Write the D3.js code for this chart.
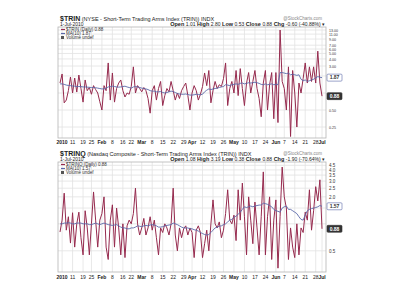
<!DOCTYPE html>
<html>
<head>
<meta charset="utf-8">
<script src="https://cdn.jsdelivr.net/npm/d3@7"></script>
<style>
  body { margin: 0; background: #fff; }
  svg { display: block; font-family: "Liberation Sans", Arial, sans-serif; }
</style>
</head>
<body>
<svg id="chart" width="400" height="300"></svg>
<script>
// market holidays in the range (no trading)
const holidays = ["2010-01-01", "2010-01-18", "2010-02-15", "2010-04-02", "2010-05-31"];

const tickDates = ["2010-01-04", "2010-01-11", "2010-01-19", "2010-01-25", "2010-02-01", "2010-02-08",
  "2010-02-16", "2010-02-22", "2010-03-01", "2010-03-08", "2010-03-15", "2010-03-22", "2010-03-29",
  "2010-04-05", "2010-04-12", "2010-04-19", "2010-04-26", "2010-05-03", "2010-05-10", "2010-05-17",
  "2010-05-24", "2010-06-01", "2010-06-07", "2010-06-14", "2010-06-21", "2010-06-28", "2010-07-01"];
const tickLabels = ["2010", "11", "19", "25", "Feb", "8", "16", "22", "Mar", "8", "15", "22", "29",
  "Apr", "12", "19", "26", "May", "10", "17", "24", "Jun", "7", "14", "21", "28", "Jul"];

const trinValues = [
  1.50, 2.17, 0.67, 0.75, 1.10, 1.92, 1.00, 1.84, 1.04, 2.08,
  1.20, 0.69, 1.70, 1.10, 1.25, 0.95, 1.35, 1.15, 1.00, 0.70,
  0.50, 1.35, 1.10, 3.40, 0.75, 2.26, 0.69, 1.20, 1.50, 1.70,
  1.10, 0.85, 1.00, 0.95, 1.30, 2.90, 1.00, 1.35, 1.20, 1.05,
  1.25, 1.10, 0.80, 0.44, 1.10, 1.35, 0.75, 1.20, 1.60, 0.60,
  0.90, 1.20, 1.05, 1.60, 1.10, 0.75, 1.00, 0.80, 1.10, 1.30,
  1.50, 0.90, 0.50, 1.00, 1.35, 1.10, 0.75, 0.95, 1.30, 2.26,
  1.35, 2.50, 0.67, 1.10, 1.60, 1.20, 1.40, 1.30, 1.80, 3.40,
  0.60, 1.20, 1.60, 1.00, 2.50, 0.90, 2.70, 1.20, 0.60, 1.50,
  2.30, 1.00, 1.60, 2.50, 1.20, 0.80, 0.38, 1.50, 2.50, 0.50,
  1.40, 2.30, 0.35, 2.30, 0.30, 13.0, 1.60, 1.20, 0.50, 2.90,
  0.17, 2.50, 1.00, 0.25, 1.50, 1.00, 1.80, 3.40, 1.50, 2.90,
  1.60, 2.90, 1.50, 5.50, 1.50, 0.88];
const trinMA = [
  1.45, 1.45, 1.42, 1.38, 1.36, 1.35, 1.33, 1.32, 1.30, 1.30,
  1.30, 1.28, 1.28, 1.27, 1.26, 1.25, 1.25, 1.24, 1.22, 1.20,
  1.18, 1.18, 1.22, 1.28, 1.30, 1.32, 1.30, 1.28, 1.27, 1.28,
  1.30, 1.32, 1.28, 1.25, 1.22, 1.28, 1.30, 1.28, 1.25, 1.22,
  1.20, 1.18, 1.15, 1.10, 1.08, 1.08, 1.05, 1.05, 1.06, 1.02,
  1.00, 1.02, 1.05, 1.08, 1.06, 1.02, 0.98, 0.96, 0.95, 0.95,
  0.96, 0.94, 0.92, 0.92, 0.93, 0.95, 0.94, 0.93, 0.95, 1.05,
  1.12, 1.18, 1.15, 1.18, 1.20, 1.22, 1.25, 1.28, 1.30, 1.40,
  1.38, 1.35, 1.40, 1.42, 1.45, 1.42, 1.48, 1.50, 1.45, 1.48,
  1.52, 1.50, 1.52, 1.55, 1.52, 1.48, 1.42, 1.40, 1.45, 1.40,
  1.42, 1.45, 1.40, 1.42, 1.40, 2.30, 2.30, 2.25, 2.20, 2.25,
  2.10, 2.15, 2.10, 2.05, 2.10, 1.75, 1.65, 1.70, 1.60, 1.65,
  1.70, 1.75, 1.85, 1.95, 1.90, 1.87];

const trinqValues = [
  0.81, 1.10, 2.20, 0.85, 1.20, 0.61, 1.33, 0.55, 1.00, 1.35,
  0.70, 0.45, 1.40, 0.90, 0.45, 1.00, 2.27, 1.10, 0.55, 1.10,
  1.30, 2.00, 0.55, 0.40, 1.10, 1.63, 0.55, 1.50, 0.90, 0.45,
  1.00, 0.42, 0.95, 1.10, 1.00, 1.30, 2.50, 1.00, 0.75, 0.90,
  1.15, 0.75, 0.90, 1.20, 0.85, 1.10, 0.70, 0.45, 0.90, 0.80,
  1.00, 0.90, 0.75, 1.00, 2.50, 0.75, 0.50, 0.90, 0.70, 0.88,
  0.95, 0.75, 0.90, 0.80, 0.42, 0.85, 0.95, 0.80, 0.42, 0.60,
  0.85, 0.50, 1.00, 1.85, 1.00, 0.90, 1.05, 0.70, 0.85, 1.30,
  2.40, 1.10, 1.00, 1.25, 0.65, 2.40, 1.10, 2.85, 1.20, 0.45,
  2.00, 1.10, 0.60, 1.75, 0.90, 0.45, 1.20, 3.80, 0.45, 1.20,
  2.00, 0.40, 1.10, 1.85, 0.32, 1.20, 4.30, 2.00, 1.50, 0.40,
  0.90, 0.55, 0.42, 1.00, 0.45, 0.90, 0.80, 1.35, 1.10, 2.40,
  0.85, 1.40, 2.60, 1.80, 3.10, 0.88];
const trinqMA = [
  1.00, 1.00, 1.02, 1.02, 1.03, 1.02, 1.00, 1.00, 1.02, 1.02,
  1.02, 1.00, 1.00, 1.00, 0.98, 0.98, 1.00, 1.02, 1.00, 0.98,
  1.00, 1.02, 1.00, 0.98, 0.97, 0.96, 0.97, 0.98, 0.95, 0.92,
  0.90, 0.90, 0.88, 0.88, 0.90, 0.90, 0.92, 0.95, 0.94, 0.93,
  0.95, 0.96, 0.95, 0.97, 0.98, 0.97, 0.95, 0.92, 0.92, 0.93,
  0.95, 0.96, 0.97, 0.98, 1.02, 1.00, 0.98, 0.95, 0.92, 0.90,
  0.90, 0.90, 0.88, 0.88, 0.86, 0.85, 0.83, 0.80, 0.78, 0.76,
  0.75, 0.76, 0.80, 0.85, 0.90, 0.92, 0.94, 0.95, 0.98, 1.00,
  1.05, 1.10, 1.12, 1.18, 1.22, 1.28, 1.35, 1.45, 1.55, 1.52,
  1.55, 1.58, 1.55, 1.58, 1.60, 1.62, 1.62, 1.70, 1.68, 1.65,
  1.60, 1.55, 1.45, 1.40, 1.38, 1.35, 1.50, 1.55, 1.58, 1.45,
  1.45, 1.40, 1.35, 1.30, 1.20, 1.12, 1.10, 1.25, 1.40, 1.45,
  1.48, 1.50, 1.52, 1.55, 1.60, 1.57];

const trinTicks = [0.25, 0.5, 1, 2, 3, 4, 5, 6, 7, 9, 11, 13];
const trinqTicks = [0.5, 1, 1.5, 2, 2.5, 3, 3.5, 4, 4.5];

const fmtDay = d3.timeFormat("%Y-%m-%d");
const days = d3.timeDay.range(new Date(2009, 11, 31), new Date(2010, 6, 2))
  .filter((d) => d.getDay() !== 0 && d.getDay() !== 6 && !holidays.includes(fmtDay(d)));

const svg = d3.select("#chart");
const lineColor = "#962a4e";
const maColor = "#5a68a8";
const left = 58, right = 326;
const x = d3.scalePoint().domain(days.map(fmtDay)).range([60, 322]);

const panels = [
  {
    id: "p1", top: 27, bottom: 138, symbol: "$TRIN",
    desc: " (NYSE - Short-Term Trading Arms Index (TRIN)) INDX",
    head: [["Open", "1.01"], ["High", "2.80"], ["Low", "0.53"], ["Close", "0.88"], ["Chg", "-0.60 (-40.88%)"]],
    values: trinValues, ma: trinMA, maLabel: "1.87", axisFont: 3.6,
    domain: [0.16, 14.7], ticks: trinTicks, fmt: d3.format(".2f"), xLabelY: 144
  },
  {
    id: "p2", top: 162, bottom: 272, symbol: "$TRINQ",
    desc: " (Nasdaq Composite - Short-Term Trading Arms Index (TRIN)) INDX",
    head: [["Open", "1.08"], ["High", "3.19"], ["Low", "0.38"], ["Close", "0.88"], ["Chg", "-1.90 (-70.64%)"]],
    values: trinqValues, ma: trinqMA, maLabel: "1.57", axisFont: 4.5,
    domain: [0.29, 4.9], ticks: trinqTicks, fmt: d3.format(".1f"), xLabelY: 279
  }
];

panels.forEach((p) => {
  const y = d3.scaleLog().domain(p.domain).range([p.bottom, p.top]);
  const g = svg.append("g");

  g.append("clipPath").attr("id", "clip-" + p.id)
    .append("rect").attr("x", left).attr("y", p.top)
    .attr("width", right - left).attr("height", p.bottom - p.top);

  // grid
  g.selectAll(".vg").data(tickDates).join("line")
    .attr("x1", (d) => x(d)).attr("x2", (d) => x(d))
    .attr("y1", p.top).attr("y2", p.bottom)
    .attr("stroke", "#e2e2e2").attr("stroke-width", 0.8);
  g.selectAll(".hg").data(p.ticks.filter((t) => y(t) > p.top + 1)).join("line")
    .attr("x1", left).attr("x2", right)
    .attr("y1", (d) => y(d)).attr("y2", (d) => y(d))
    .attr("stroke", "#e2e2e2").attr("stroke-width", 0.8);

  g.append("rect").attr("x", left).attr("y", p.top)
    .attr("width", right - left).attr("height", p.bottom - p.top)
    .attr("fill", "none").attr("stroke", "#b5b5b5").attr("stroke-width", 0.8);

  // title + header
  const title = g.append("text").attr("x", 60).attr("y", p.top - 6).attr("font-size", 5.5).attr("fill", "#222");
  title.append("tspan").attr("font-weight", "bold").attr("font-size", 7).text(p.symbol);
  title.append("tspan").text(p.desc);
  g.append("text").attr("x", 60).attr("y", p.top - 1).attr("font-size", 5).attr("fill", "#222").text("1-Jul-2010");
  g.append("text").attr("x", 322).attr("y", p.top - 7).attr("font-size", 4.5).attr("fill", "#888")
    .attr("text-anchor", "end").text("@StockCharts.com");
  const head = g.append("text").attr("x", 325).attr("y", p.top - 1).attr("font-size", 5)
    .attr("text-anchor", "end").attr("fill", "#222");
  p.head.forEach(([k, v], i) => {
    head.append("tspan").attr("font-weight", "bold").attr("font-size", 5.5).text((i ? "  " : "") + k + " ");
    head.append("tspan").text(v);
  });
  head.append("tspan").text(" \u25BE");

  // legend
  const legend = [
    [lineColor, p.symbol + " (Daily) 0.88"],
    [maColor, "MA(10) " + p.maLabel]
  ];
  legend.forEach(([c, t], i) => {
    const ly = p.top + 4 + i * 4;
    g.append("line").attr("x1", 61).attr("x2", 65).attr("y1", ly - 1.5).attr("y2", ly - 1.5)
      .attr("stroke", c).attr("stroke-width", 1.2);
    g.append("text").attr("x", 66).attr("y", ly).attr("font-size", 4.5).attr("fill", "#333").text(t);
  });
  g.append("rect").attr("x", 61).attr("y", p.top + 9).attr("width", 3).attr("height", 3).attr("fill", "#555");
  g.append("text").attr("x", 66).attr("y", p.top + 12).attr("font-size", 4.5).attr("fill", "#333").text("Volume undef");

  // series
  const line = d3.line().x((d, i) => x(fmtDay(days[i]))).y((d) => y(d));
  const plot = g.append("g").attr("clip-path", "url(#clip-" + p.id + ")");
  plot.append("path").attr("d", line(p.values)).attr("fill", "none")
    .attr("stroke", lineColor).attr("stroke-width", 1).attr("stroke-linejoin", "round");
  plot.append("path").attr("d", line(p.ma)).attr("fill", "none")
    .attr("stroke", maColor).attr("stroke-width", 0.9);

  // value boxes at the right edge
  const lastMA = p.ma[p.ma.length - 1];
  const lastVal = p.values[p.values.length - 1];
  const boxes = [
    [lastMA, p.maLabel, "#fff", maColor, "#333"],
    [lastVal, "0.88", "#333", "#333", "#fff"]
  ];

  // right axis (labels hidden where a value box sits)
  const freeTicks = p.ticks.filter((t) => boxes.every(([v]) => Math.abs(y(t) - y(v)) > 6));
  const axis = g.append("g").attr("transform", `translate(${right},0)`)
    .call(d3.axisRight(y).tickValues(freeTicks).tickFormat(p.fmt).tickSize(0).tickPadding(3));
  axis.select(".domain").remove();
  axis.selectAll("text").attr("font-size", p.axisFont).attr("fill", "#333").attr("font-family", null);

  boxes.forEach(([v, t, fill, stroke, tc]) => {
    g.append("rect").attr("x", right + 1).attr("y", y(v) - 3.5).attr("width", 15).attr("height", 7)
      .attr("rx", 1).attr("fill", fill).attr("stroke", stroke).attr("stroke-width", 0.6);
    g.append("text").attr("x", right + 8.5).attr("y", y(v) + 1.8).attr("text-anchor", "middle")
      .attr("font-size", 5).attr("font-weight", "bold").attr("fill", tc).text(t);
  });

  // x labels
  g.selectAll(".xl").data(tickDates).join("text")
    .attr("x", (d) => x(d)).attr("y", p.xLabelY)
    .attr("text-anchor", "middle").attr("font-size", 5).attr("fill", "#222")
    .attr("font-weight", (d, i) => (/^\d+$/.test(tickLabels[i]) && tickLabels[i].length < 3 ? "normal" : "bold"))
    .text((d, i) => tickLabels[i]);
});
</script>
</body>
</html>
